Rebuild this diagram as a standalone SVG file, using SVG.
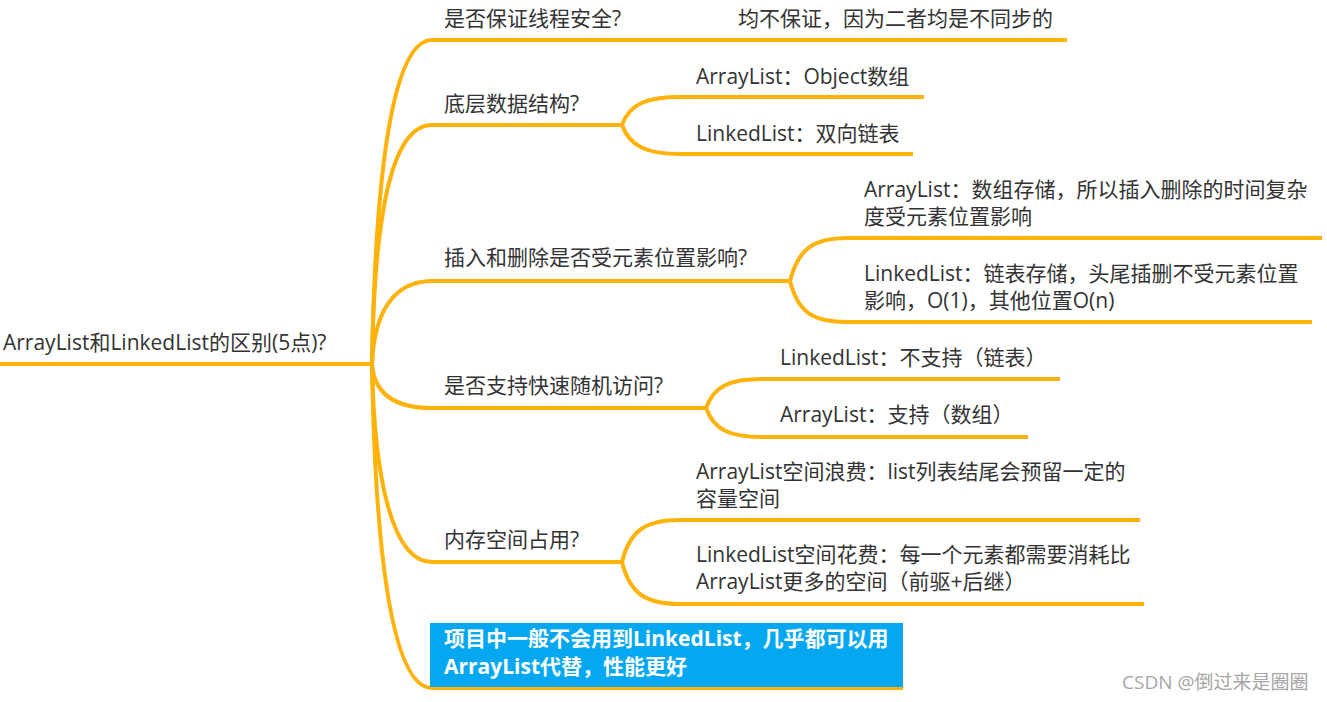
<svg xmlns="http://www.w3.org/2000/svg" width="1327" height="702" viewBox="0 0 1327 702">
<style>
text{font-family:"Open Sans","Noto Sans CJK SC",sans-serif;font-size:21px;fill:#333333}
.c{fill:none;stroke:#FFB20A;stroke-width:4;stroke-linecap:butt}
.b{font-weight:bold;fill:#ffffff}
.w{font-size:19px;fill:#a6a6a6}
</style>
<rect width="1327" height="702" fill="#ffffff"/>
<g id="connectors">
<path class="c" d="M0,364 L372,364"/>
<path class="c" d="M372,364 C375,190 390,40 432,40 L1067,40"/>
<path class="c" d="M372,364 C374,230 388,125 432,125 L622,125"/>
<path class="c" d="M372,364 C374,315 392,281 432,281 L790,281"/>
<path class="c" d="M372,364 C374,392 392,408 432,408 L706,408"/>
<path class="c" d="M372,364 C374,470 390,562 432,562 L622,562"/>
<path class="c" d="M372,364 C375,540 390,688 432,688 L903,688"/>
<path class="c" d="M622,125 C630,103 648,97 680,97 L924,97"/>
<path class="c" d="M622,125 C630,147 648,154 680,154 L913,154"/>
<path class="c" d="M790,281 C798,250 812,238 848,238 L1322,238"/>
<path class="c" d="M790,281 C798,312 812,322 848,322 L1312,322"/>
<path class="c" d="M706,408 C714,386 730,379 762,379 L1060,379"/>
<path class="c" d="M706,408 C714,430 730,437 762,437 L1028,437"/>
<path class="c" d="M622,562 C630,530 646,520 680,520 L1140,520"/>
<path class="c" d="M622,562 C630,594 646,604 680,604 L1144,604"/>
</g>
<g id="root"><text x="3" y="350">ArrayList和LinkedList的区别(5点)?</text></g>
<g id="n1"><text x="444" y="26">是否保证线程安全?</text></g>
<g id="n1a"><text x="738" y="26">均不保证，因为二者均是不同步的</text></g>
<g id="n2"><text x="444" y="111">底层数据结构?</text></g>
<g id="n2a"><text x="696" y="84">ArrayList：Object数组</text></g>
<g id="n2b"><text x="696" y="141">LinkedList：双向链表</text></g>
<g id="n3"><text x="444" y="265">插入和删除是否受元素位置影响?</text></g>
<g id="n3a"><text x="864" y="197">ArrayList：数组存储，所以插入删除的时间复杂</text><text x="864" y="224">度受元素位置影响</text></g>
<g id="n3b"><text x="864" y="281">LinkedList：链表存储，头尾插删不受元素位置</text><text x="864" y="308">影响，O(1)，其他位置O(n)</text></g>
<g id="n4"><text x="444" y="393">是否支持快速随机访问?</text></g>
<g id="n4a"><text x="780" y="365">LinkedList：不支持（链表）</text></g>
<g id="n4b"><text x="780" y="422">ArrayList：支持（数组）</text></g>
<g id="n5"><text x="444" y="547">内存空间占用?</text></g>
<g id="n5a"><text x="696" y="479">ArrayList空间浪费：list列表结尾会预留一定的</text><text x="696" y="506">容量空间</text></g>
<g id="n5b"><text x="696" y="562">LinkedList空间花费：每一个元素都需要消耗比</text><text x="696" y="589">ArrayList更多的空间（前驱+后继）</text></g>
<g id="n6"><rect x="430" y="623" width="473" height="64" fill="#05A8F0"/><text class="b" x="444" y="646">项目中一般不会用到LinkedList，几乎都可以用</text><text class="b" x="444" y="674">ArrayList代替，性能更好</text></g>
<text class="w" x="1122" y="689">CSDN @倒过来是圈圈</text>
</svg>
